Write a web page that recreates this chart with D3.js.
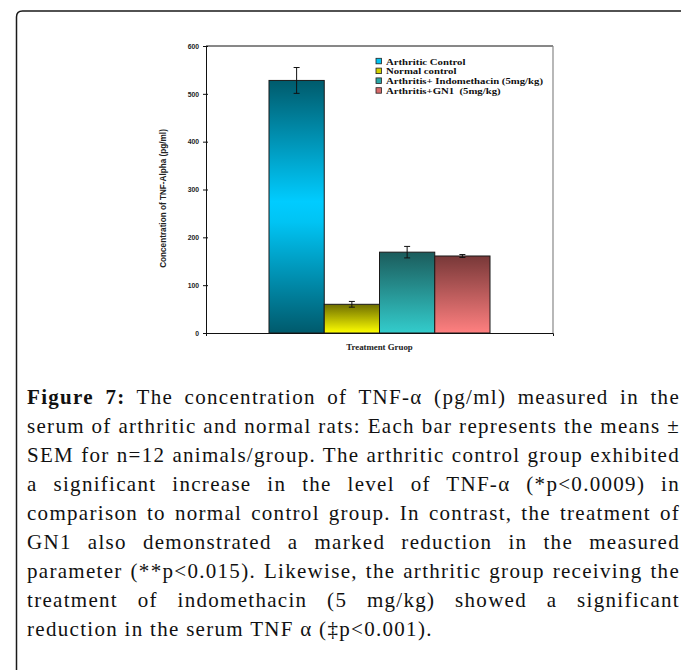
<!DOCTYPE html>
<html>
<head>
<meta charset="utf-8">
<script src="https://cdn.jsdelivr.net/npm/d3@7"></script>
<style>
  html, body { margin: 0; padding: 0; background: #fff; }
  #wrap { position: relative; width: 681px; height: 670px; overflow: hidden; }
  svg { position: absolute; left: 0; top: 0; }
  #caption { position: absolute; left: 27px; top: 383px; width: 653px;
    font-family: "Liberation Serif", "Times New Roman", serif; font-size: 21px;
    letter-spacing: 1.3px; line-height: 29px; color: #111; }
  #caption div { text-align: justify; text-align-last: justify; white-space: nowrap; }
  #caption div.last { text-align-last: left; }
</style>
</head>
<body>
<div id="wrap">
  <svg id="chart" width="681" height="670"></svg>
  <div id="caption"></div>
</div>
<script>
// ---- data ----
const groupLabel = "Treatment Gruop";
const series = ["Arthritic Control", "Normal control", "Arthritis+ Indomethacin (5mg/kg)", "Arthritis+GN1  (5mg/kg)"];
const means = [528, 60, 169, 161];
const sems = [27, 6, 12, 3];
const yTicks = [0, 100, 200, 300, 400, 500, 600];
const yLabel = "Concentration of TNF-Alpha (pg/ml)";
const captionBold = "Figure 7:";
const captionLines = [
  " The concentration of TNF-α (pg/ml) measured in the",
  "serum of arthritic and normal rats: Each bar represents the means ±",
  "SEM for n=12 animals/group. The arthritic control group exhibited",
  "a significant increase in the level of TNF-α (*p<0.0009) in",
  "comparison to normal control group. In contrast, the treatment of",
  "GN1 also demonstrated a marked reduction in the measured",
  "parameter (**p<0.015). Likewise, the arthritic group receiving the",
  "treatment of indomethacin (5 mg/kg) showed a significant",
  "reduction in the serum TNF α (‡p<0.001)."
];

// ---- styles ----
const gradStops = [
  [["0", "#005b6c"], ["0.48", "#00ccff"], ["0.56", "#00c4f4"], ["1", "#005a6c"]],
  [["0", "#6e6e00"], ["1", "#ffff00"]],
  [["0", "#1b5c5c"], ["1", "#33cccc"]],
  [["0", "#783838"], ["1", "#ff8080"]]
];
const legendColors = ["#00c4f2", "#d0d000", "#2aa6a6", "#d86a6a"];

const svg = d3.select("#chart");

// Frame
svg.append("path")
  .attr("d", "M16.5,670 V17 Q16.5,11 22.5,11 H681")
  .attr("fill", "none").attr("stroke", "#1a1a1a").attr("stroke-width", 1.5);

// Scales
const plotL = 206, plotR = 553, plotT = 46, plotB = 333;
const y = d3.scaleLinear().domain([0, 600]).range([plotB, plotT]);
const x0 = d3.scaleBand().domain([groupLabel]).range([plotL, plotR]).padding(0.2218);
const x1 = d3.scaleBand().domain(series).range([0, x0.bandwidth()]).padding(0);

// Gradients
const defs = svg.append("defs");
gradStops.forEach((stops, i) => {
  const g = defs.append("linearGradient").attr("id", "g" + i)
    .attr("x1", 0).attr("y1", 0).attr("x2", 0).attr("y2", 1);
  stops.forEach(s => g.append("stop").attr("offset", s[0]).attr("stop-color", s[1]));
});

// Plot frame (top black, right grey)
svg.append("line").attr("x1", plotL).attr("x2", plotR).attr("y1", plotT).attr("y2", plotT)
  .attr("stroke", "#111").attr("stroke-width", 1);
svg.append("line").attr("x1", plotR).attr("x2", plotR).attr("y1", plotT).attr("y2", plotB)
  .attr("stroke", "#888").attr("stroke-width", 1.2);

// Bars
const gx = x0(groupLabel);
const data = series.map((s, i) => ({ s, i, v: means[i], e: sems[i] }));
svg.append("g").selectAll("rect").data(data).join("rect")
  .attr("x", d => gx + x1(d.s))
  .attr("y", d => y(d.v))
  .attr("width", x1.bandwidth())
  .attr("height", d => y(0) - y(d.v))
  .attr("fill", d => "url(#g" + d.i + ")")
  .attr("stroke", "#1a1a1a").attr("stroke-width", 1);

// Error bars
const eb = svg.append("g").attr("stroke", "#111").attr("stroke-width", 1);
data.forEach(d => {
  const cx = gx + x1(d.s) + x1.bandwidth() / 2;
  eb.append("line").attr("x1", cx).attr("x2", cx).attr("y1", y(d.v + d.e)).attr("y2", y(d.v - d.e));
  eb.append("line").attr("x1", cx - 3).attr("x2", cx + 3).attr("y1", y(d.v + d.e)).attr("y2", y(d.v + d.e));
  eb.append("line").attr("x1", cx - 3).attr("x2", cx + 3).attr("y1", y(d.v - d.e)).attr("y2", y(d.v - d.e));
});

// Y axis
const yAxis = svg.append("g").attr("transform", `translate(${plotL},0)`)
  .call(d3.axisLeft(y).tickValues(yTicks).tickSize(3).tickSizeOuter(0).tickPadding(4));
yAxis.select(".domain").attr("stroke", "#111");
yAxis.selectAll(".tick line").attr("stroke", "#111");
yAxis.selectAll("text").attr("font-family", "Arial, 'Liberation Sans', sans-serif")
  .attr("font-size", 6.8).attr("font-weight", "bold").attr("fill", "#222");
svg.append("g").attr("transform", `translate(${plotL},0)`)
  .call(d3.axisRight(y).tickValues(yTicks).tickSize(2).tickFormat(""))
  .call(g => g.select(".domain").remove())
  .selectAll(".tick line").attr("stroke", "#111");

// X axis
const xAxis = svg.append("g").attr("transform", `translate(0,${plotB})`)
  .call(d3.axisBottom(x0).tickValues([]).tickSizeOuter(3));
xAxis.select(".domain").attr("stroke", "#111");

// Axis titles
svg.append("text")
  .attr("transform", `translate(166,${(plotT + plotB) / 2 + 9}) rotate(-90)`)
  .attr("text-anchor", "middle")
  .attr("font-family", "Arial, 'Liberation Sans', sans-serif")
  .attr("font-size", 8.2).attr("font-weight", "bold").attr("fill", "#222")
  .text(yLabel);
svg.append("text")
  .attr("x", (plotL + plotR) / 2).attr("y", 350)
  .attr("text-anchor", "middle")
  .attr("font-family", "'Liberation Serif', 'Times New Roman', serif")
  .attr("font-size", 8.8).attr("font-weight", "bold").attr("fill", "#222")
  .text(groupLabel);

// Legend
const leg = svg.append("g").attr("transform", "translate(376,58)");
series.forEach((s, i) => {
  const row = leg.append("g").attr("transform", `translate(0,${i * 9.8})`);
  row.append("rect").attr("x", 0).attr("y", 0.3).attr("width", 5.5).attr("height", 5.5)
    .attr("fill", legendColors[i]).attr("stroke", "#222").attr("stroke-width", 0.8);
  row.append("text")
    .attr("transform", "translate(10,6.6) scale(1.25,1)")
    .attr("font-family", "'Liberation Serif', 'Times New Roman', serif")
    .attr("font-size", 8.6).attr("font-weight", "bold").attr("fill", "#111")
    .attr("xml:space", "preserve")
    .text(s);
});

// Caption
const cap = d3.select("#caption");
captionLines.forEach((line, i) => {
  const div = cap.append("div");
  if (i === captionLines.length - 1) div.attr("class", "last");
  if (i === 0) {
    div.append("b").text(captionBold);
    div.append("span").text(line);
  } else {
    div.text(line);
  }
});
</script>
</body>
</html>
